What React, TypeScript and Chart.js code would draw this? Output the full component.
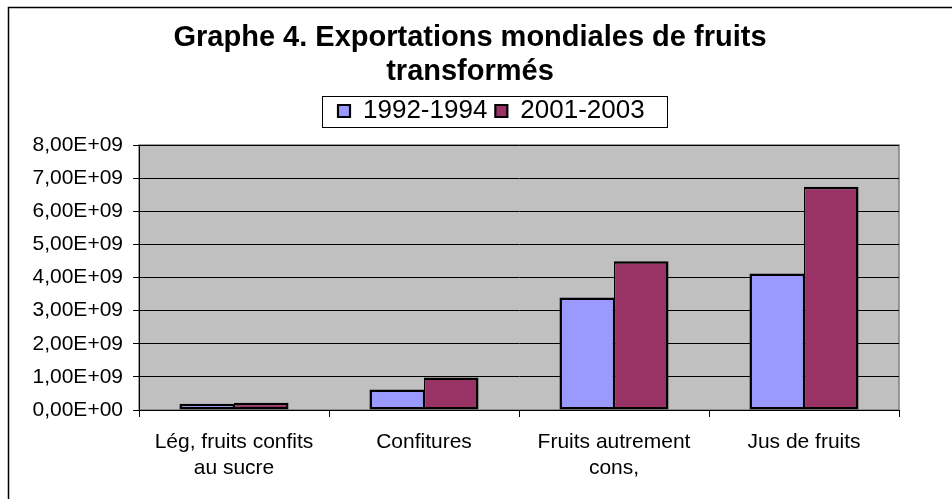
import React, { useEffect, useRef } from 'react';
import Chart from 'chart.js/auto';

const titleLines = ['Graphe 4. Exportations mondiales de fruits', 'transformés'];
const categories: (string | string[])[] = [
  ['Lég, fruits confits', 'au sucre'],
  'Confitures',
  ['Fruits autrement', 'cons,'],
  'Jus de fruits',
];
const seriesNames = ['1992-1994', '2001-2003'];
const values1992 = [0.19e9, 0.62e9, 3.4e9, 4.12e9];
const values2001 = [0.22e9, 0.98e9, 4.49e9, 6.74e9];
const yTickLabels = [
  '0,00E+00',
  '1,00E+09',
  '2,00E+09',
  '3,00E+09',
  '4,00E+09',
  '5,00E+09',
  '6,00E+09',
  '7,00E+09',
  '8,00E+09',
];

const FONT = "'Liberation Sans', Arial, Helvetica, sans-serif";

const excelPlugin = {
  id: 'excelDecor',
  afterLayout(chart: any) {
    const tb = chart.titleBlock;
    if (tb) {
      const dx = 470 - (tb.left + tb.right) / 2;
      tb.left += dx;
      tb.right += dx;
    }
    const lg = chart.legend;
    if (lg && lg.lineWidths && lg.options.display) {
      const p = lg.options.labels.padding;
      const start = (lg.left + p + lg.right - lg.lineWidths[0]) / 2;
      const dx = 338 - start;
      lg.left += dx;
      lg.right += dx;
    }
  },
  beforeDraw(chart: any) {
    const { ctx, chartArea: a } = chart;
    ctx.save();
    ctx.fillStyle = '#ffffff';
    ctx.fillRect(0, 0, chart.width, chart.height);
    ctx.fillStyle = '#C0C0C0';
    ctx.fillRect(a.left, a.top, a.right - a.left, a.bottom - a.top);
    ctx.strokeStyle = '#808080';
    ctx.lineWidth = 1.5;
    ctx.strokeRect(a.left, a.top, a.right - a.left, a.bottom - a.top);
    ctx.restore();
  },
  afterDraw(chart: any) {
    const { ctx } = chart;
    ctx.save();
    ctx.strokeStyle = '#000';
    ctx.lineWidth = 1.5;
    ctx.beginPath();
    ctx.moveTo(8.5, chart.height);
    ctx.lineTo(8.5, 7.5);
    ctx.lineTo(chart.width, 7.5);
    ctx.stroke();
    const lg = chart.legend;
    const hb = lg && lg.legendHitBoxes;
    if (hb && hb.length) {
      const last = hb[hb.length - 1];
      const l = Math.round(hb[0].left - 16) + 0.5;
      const r = Math.round(last.left + last.width + 22) + 0.5;
      const t = Math.round(hb[0].top - 2) + 0.5;
      const b = Math.round(hb[0].top + hb[0].height + 3) + 0.5;
      ctx.lineWidth = 1;
      ctx.strokeStyle = '#000';
      ctx.strokeRect(l, t, r - l, b - t);
    }
    ctx.restore();
  },
};

export default function App() {
  const ref = useRef<HTMLCanvasElement>(null);
  useEffect(() => {
    const canvas = ref.current;
    if (!canvas) return;
    const chart = new Chart(canvas, {
      type: 'bar',
      data: {
        labels: categories,
        datasets: [
          {
            label: seriesNames[0],
            data: values1992,
            backgroundColor: '#9999FF',
            borderColor: '#000000',
            borderWidth: { top: 2.5, left: 2.5, right: 1.25, bottom: 2.5 },
            borderSkipped: false,
            categoryPercentage: 0.574,
            barPercentage: 1,
          },
          {
            label: seriesNames[1],
            data: values2001,
            backgroundColor: '#993366',
            borderColor: '#000000',
            borderWidth: { top: 2.5, left: 1.25, right: 2.5, bottom: 2.5 },
            borderSkipped: false,
            categoryPercentage: 0.574,
            barPercentage: 1,
          },
        ],
      },
      options: {
        responsive: false,
        animation: false,
        events: [],
        layout: { padding: { left: 0, right: 53, top: 0, bottom: 0 } },
        plugins: {
          title: {
            display: true,
            text: titleLines,
            color: '#000',
            font: { family: FONT, size: 29, weight: 'bold', lineHeight: '34px' },
            padding: { top: 21, bottom: 1 },
          },
          subtitle: {
            display: true,
            text: '',
            position: 'top',
            weight: 500,
            font: { family: FONT, size: 1, lineHeight: '1px' },
            padding: { top: 10, bottom: 0 },
          },
          legend: {
            display: true,
            position: 'top',
            labels: {
              color: '#000',
              font: { family: FONT, size: 26 },
              boxWidth: 12,
              boxHeight: 12,
              padding: 8,
            },
          },
          tooltip: { enabled: false },
        },
        scales: {
          x: {
            ticks: {
              color: '#000',
              font: { family: FONT, size: 21, lineHeight: '26px' },
              padding: 12,
              maxRotation: 0,
              autoSkip: false,
            },
            grid: {
              drawOnChartArea: false,
              drawTicks: true,
              tickLength: 7,
              tickColor: '#000',
              offset: true,
            },
            border: { color: '#000', width: 1 },
            afterFit(scale: any) {
              scale.height = 89;
            },
          },
          y: {
            min: 0,
            max: 8e9,
            ticks: {
              stepSize: 1e9,
              color: '#000',
              font: { family: FONT, size: 21 },
              padding: 10,
              callback: (value: any) => yTickLabels[Math.round(Number(value) / 1e9)],
            },
            grid: {
              color: '#000',
              lineWidth: 1,
              tickLength: 6,
              tickColor: '#000',
              drawTicks: true,
            },
            border: { color: '#000', width: 1 },
            afterFit(scale: any) {
              scale.width = 139;
            },
          },
        },
      },
      plugins: [excelPlugin],
    } as any);
    return () => chart.destroy();
  }, []);
  return (
    <div style={{ position: 'fixed', left: 0, top: 0, width: 952, height: 499, background: '#fff' }}>
      <canvas ref={ref} width={952} height={499} style={{ display: 'block', width: 952, height: 499 }} />
    </div>
  );
}
